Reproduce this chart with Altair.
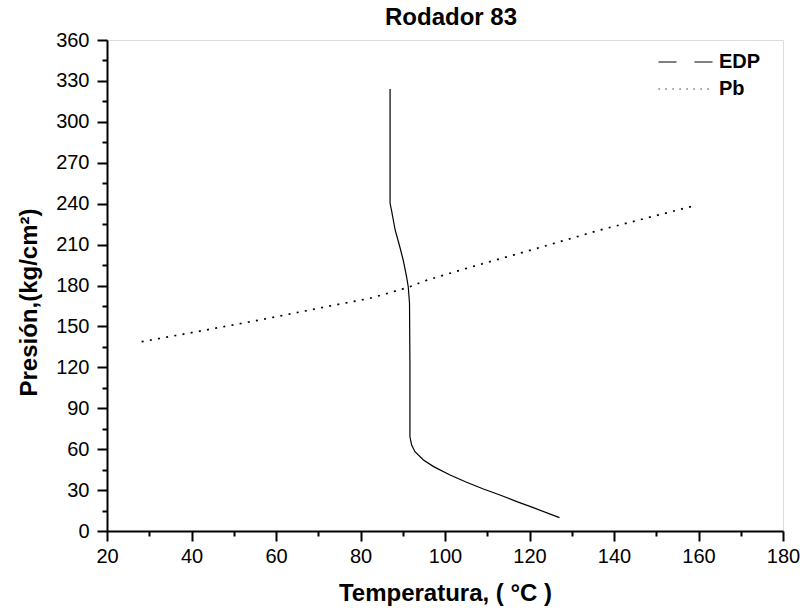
import altair as alt
import pandas as pd

# EDP curve (temperature in C, pressure in kg/cm2), listed from top of curve downwards
edp_T = [87.0, 87.0, 87.0, 87.4, 88.2, 89.3, 90.1, 90.9, 91.3, 91.6, 91.7, 91.7, 91.7,
         92.1, 92.9, 94.9, 97.3, 101.2, 105.1, 109.1, 113.0, 117.0, 120.9, 127.1]
edp_P = [324.0, 264.7, 240.3, 234.1, 220.7, 208.4, 198.7, 186.5, 179.1, 167.0, 120.5, 81.4, 69.1,
         63.1, 58.1, 52.1, 47.2, 41.1, 35.7, 30.8, 26.4, 21.5, 17.1, 9.8]

# Pb (bubble point pressure) curve
pb_T = [28.2, 41.2, 57.0, 72.8, 82.2, 87.8, 91.7, 95.3, 105.1, 120.9, 136.7, 158.8]
pb_P = [138.8, 146.1, 155.2, 165.0, 170.6, 175.5, 179.1, 183.5, 192.6, 206.5, 220.7, 238.3]

series = ["EDP", "Pb"]
x_major = [20, 40, 60, 80, 100, 120, 140, 160, 180]
x_minor = [30, 50, 70, 90, 110, 130, 150, 170]
y_major = [0, 30, 60, 90, 120, 150, 180, 210, 240, 270, 300, 330, 360]
y_minor = [15, 45, 75, 105, 135, 165, 195, 225, 255, 285, 315, 345]

rows = []
for i, (t, p) in enumerate(zip(edp_T, edp_P)):
    rows.append({"T": t, "P": p, "serie": "EDP", "idx": i})
for i, (t, p) in enumerate(zip(pb_T, pb_P)):
    rows.append({"T": t, "P": p, "serie": "Pb", "idx": i})
df = pd.DataFrame(rows)

FONT = "Liberation Sans"
xs = alt.Scale(domain=[20, 180], nice=False, zero=False)
ys = alt.Scale(domain=[0, 360], nice=False, zero=False)

major_x = alt.Axis(values=x_major, orient="bottom", title="Temperatura, ( °C )",
                   labelFont=FONT, labelFontSize=20, labelColor="black", labelPadding=5,
                   tickSize=10, tickWidth=2, tickColor="black",
                   domainColor="black", domainWidth=2,
                   titleFont=FONT, titleFontSize=24, titleFontWeight="bold",
                   titleColor="black", titlePadding=15, grid=False, labelFlush=False)
major_y = alt.Axis(values=y_major, orient="left", title="Presión,(kg/cm²)",
                   labelFont=FONT, labelFontSize=20, labelColor="black", labelPadding=8,
                   tickSize=10, tickWidth=2, tickColor="black",
                   domainColor="black", domainWidth=2,
                   titleFont=FONT, titleFontSize=24, titleFontWeight="bold",
                   titleColor="black", titlePadding=14, titleY=262, titleAlign="center",
                   grid=False, labelFlush=False)
minor_x = alt.Axis(values=x_minor, orient="bottom", title=None, labels=False,
                   domain=False, tickSize=5, tickWidth=2, tickColor="black", grid=False)
minor_y = alt.Axis(values=y_minor, orient="left", title=None, labels=False,
                   domain=False, tickSize=5, tickWidth=2, tickColor="black", grid=False)

base = alt.Chart(df)

edp = base.transform_filter(alt.datum.serie == "EDP").mark_line(
    color="black", strokeWidth=1.2).encode(
    x=alt.X("T:Q", scale=xs, axis=major_x),
    y=alt.Y("P:Q", scale=ys, axis=major_y),
    order="idx:Q",
)

minor = base.transform_filter("false").mark_line(color="black").encode(
    x=alt.X("T:Q", scale=xs, axis=minor_x),
    y=alt.Y("P:Q", scale=ys, axis=minor_y),
)

pb = base.transform_filter(alt.datum.serie == "Pb").mark_line(
    color="black", strokeWidth=1.7).encode(
    x=alt.X("T:Q", scale=xs, axis=None),
    y=alt.Y("P:Q", scale=ys, axis=None),
    order="idx:Q",
    strokeDash=alt.value([2, 6.3]),
)

leg = base.transform_filter("false").mark_line(color="black", strokeWidth=1).encode(
    x=alt.X("T:Q", scale=xs, axis=None),
    y=alt.Y("P:Q", scale=ys, axis=None),
    strokeDash=alt.StrokeDash(
        "serie:N",
        scale=alt.Scale(domain=series, range=[[18, 18], [1.2, 5.8]]),
        legend=alt.Legend(title=None, orient="none", legendX=551, legendY=12,
                          padding=0, rowPadding=7, clipHeight=20,
                          symbolType="stroke", symbolSize=2916,
                          symbolStrokeWidth=1, symbolStrokeColor="black",
                          labelFont=FONT, labelFontSize=20, labelFontWeight="bold",
                          labelColor="black", labelOffset=6),
    ),
)

chart = alt.layer(edp, minor, pb, leg).resolve_axis(
    x="independent", y="independent"
).properties(
    width=676,
    height=491,
    title=alt.TitleParams("Rodador 83", font=FONT, fontSize=24, fontWeight="bold",
                          color="black", anchor="middle", frame="group",
                          baseline="alphabetic", offset=12, dx=6, dy=31),
    autosize=alt.AutoSizeParams(type="none"),
    padding={"left": 107, "top": 40, "right": 21, "bottom": 83},
).configure_view(stroke="#666666", strokeWidth=1).configure(background="white")

chart.save("out.html", embed_options={"renderer": "svg", "actions": False})
